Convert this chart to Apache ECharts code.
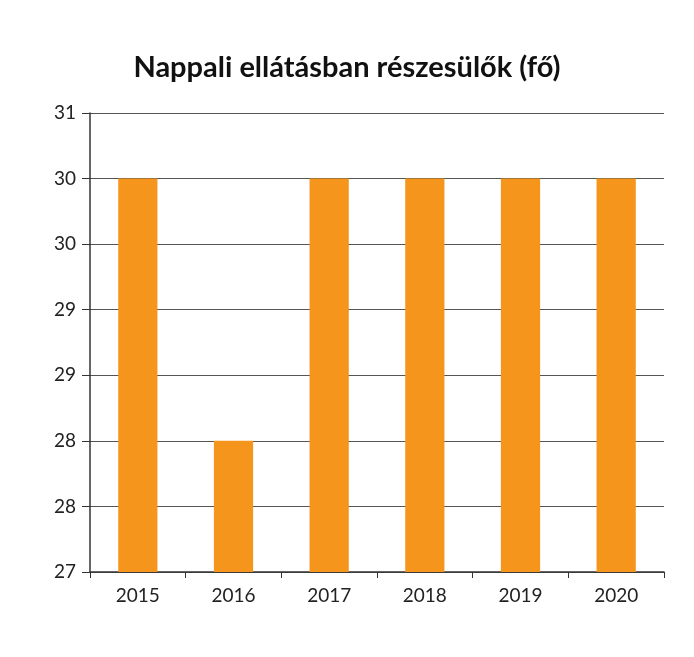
<!DOCTYPE html>
<html>
<head>
<meta charset="utf-8">
<script src="https://cdn.jsdelivr.net/npm/echarts@6/dist/echarts.min.js"></script>
<style>
  html, body { margin: 0; padding: 0; background: #fff; }
  #chart { width: 694px; height: 657px; }
</style>
</head>
<body>
<div id="chart"></div>
<script>
const years = ['2015', '2016', '2017', '2018', '2019', '2020']
const participants = [30, 28, 30, 30, 30, 30]
const yMin = 27
const yMax = 30.5
const yStep = 0.5

const chart = echarts.init(document.getElementById('chart'))
chart.setOption({
  backgroundColor: '#fff',
  title: {
    text: 'Nappali ellátásban részesülők (fő)',
    left: 'center',
    top: 48,
    textStyle: { fontFamily: 'Lato', fontSize: 29, fontWeight: 'bold', color: '#111' }
  },
  grid: { left: 90, right: 30, top: 113, bottom: 85 },
  xAxis: {
    type: 'category',
    data: years,
    axisLine: { lineStyle: { color: '#333', width: 1.5 } },
    axisTick: { show: true, alignWithLabel: false, length: 6, lineStyle: { color: '#333' } },
    axisLabel: { fontFamily: 'Lato', fontSize: 19, color: '#222', margin: 14 }
  },
  yAxis: {
    type: 'value',
    min: yMin,
    max: yMax,
    interval: yStep,
    axisLine: { show: true, lineStyle: { color: '#333', width: 1.5 } },
    axisTick: { show: true, length: 8, lineStyle: { color: '#333' } },
    axisLabel: {
      fontFamily: 'Lato', fontSize: 19, color: '#222', margin: 14,
      formatter: v => String(Math.round(v + 1e-9))
    },
    splitLine: { lineStyle: { color: '#555', width: 1.2 } }
  },
  series: [{
    type: 'bar',
    data: participants,
    barWidth: '41%',
    itemStyle: { color: '#F5951C' }
  }]
})
</script>
</body>
</html>
